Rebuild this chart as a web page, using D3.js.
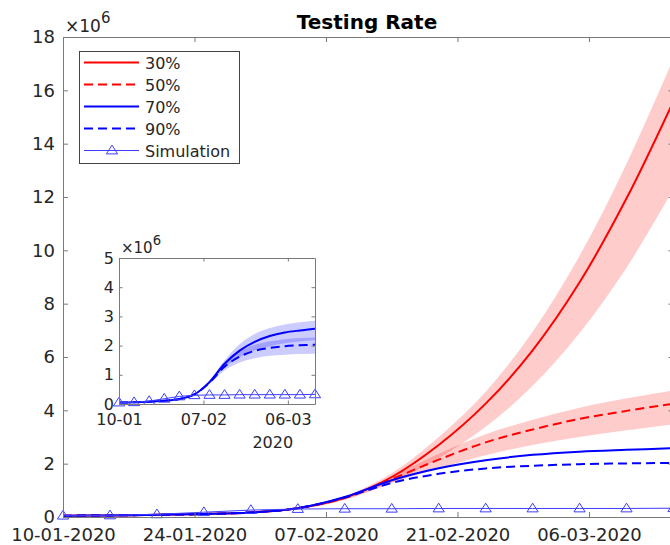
<!DOCTYPE html>
<html>
<head>
<meta charset="utf-8">
<script src="https://cdn.jsdelivr.net/npm/d3@7"></script>
<style>
body { margin: 0; background: #fff; }
text { font-family: "DejaVu Sans", sans-serif; fill: #262626; }
.axis path, .axis line { stroke: #7a7a7a; }
</style>
</head>
<body>
<div id="chart-area"></div>
<script>
/*
*    testing rate chart (values in millions)
*/
var dates = ["2020-01-10","2020-01-15","2020-01-20","2020-01-25","2020-01-30",
             "2020-02-04","2020-02-09","2020-02-14","2020-02-19","2020-02-24",
             "2020-02-29","2020-03-05","2020-03-10","2020-03-15"];

var rate30   = [0.05,0.06,0.08,0.11,0.17,0.33,0.72,1.50,2.70,4.25,6.25,8.80,11.95,15.60];
var rate30Hi = [0.05,0.06,0.08,0.11,0.18,0.35,0.78,1.64,3.00,4.70,6.95,9.80,13.25,17.20];
var rate30Lo = [0.05,0.06,0.08,0.11,0.16,0.30,0.65,1.28,2.20,3.38,4.92,6.90,9.35,12.30];

var rate50   = [0.05,0.06,0.08,0.11,0.17,0.33,0.72,1.42,2.15,2.80,3.28,3.68,3.98,4.25];
var rate50Hi = [0.05,0.06,0.08,0.11,0.18,0.35,0.78,1.52,2.37,3.10,3.65,4.10,4.45,4.75];
var rate50Lo = [0.05,0.06,0.08,0.11,0.16,0.30,0.65,1.28,1.82,2.32,2.70,3.00,3.25,3.48];

var rate70   = [0.05,0.06,0.08,0.11,0.17,0.33,0.75,1.38,1.83,2.13,2.33,2.45,2.52,2.58];
var rate70Hi = [0.05,0.06,0.08,0.11,0.18,0.35,0.80,1.50,2.05,2.40,2.60,2.72,2.80,2.85];
var rate70Lo = [0.05,0.06,0.08,0.11,0.16,0.30,0.70,1.25,1.60,1.83,1.98,2.08,2.14,2.18];

var rate90   = [0.05,0.06,0.08,0.11,0.17,0.33,0.73,1.28,1.62,1.82,1.92,1.98,2.01,2.03];
var rate90Hi = [0.05,0.06,0.08,0.11,0.18,0.35,0.77,1.38,1.80,2.03,2.15,2.22,2.26,2.28];
var rate90Lo = [0.05,0.06,0.08,0.11,0.16,0.30,0.68,1.15,1.42,1.57,1.65,1.69,1.71,1.72];

var simulation = [0.05,0.06,0.10,0.18,0.26,0.30,0.31,0.31,0.32,0.32,0.32,0.32,0.32,0.33];

var yTicksMain  = [0,2,4,6,8,10,12,14,16,18];
var yTicksInset = [0,1,2,3,4,5];
var xTicksMain  = ["2020-01-10","2020-01-24","2020-02-07","2020-02-21","2020-03-06"];
var xTicksInset = ["2020-01-10","2020-02-07","2020-03-06"];
var legendLabels = ["30%","50%","70%","90%","Simulation"];

var parse = d3.utcParse("%Y-%m-%d");

function rows(vals, lo, hi){
    return dates.map((d,i) => {
        return {date: parse(d), v: vals[i], lo: lo ? lo[i] : null, hi: hi ? hi[i] : null};
    });
}

var series = [
    {name: legendLabels[0], data: rows(rate30, rate30Lo, rate30Hi), color: "#ff0000", dash: null, band: "main"},
    {name: legendLabels[1], data: rows(rate50, rate50Lo, rate50Hi), color: "#ff0000", dash: "9,5", band: "main"},
    {name: legendLabels[2], data: rows(rate70, rate70Lo, rate70Hi), color: "#0000ff", dash: null, band: "inset"},
    {name: legendLabels[3], data: rows(rate90, rate90Lo, rate90Hi), color: "#0000ff", dash: "9,5", band: "inset"}
];
var simData = rows(simulation);

var svg = d3.select("#chart-area").append("svg")
    .attr("width", 670)
    .attr("height", 545);

var tri = "M0,-5.3L5.6,3.4L-5.6,3.4Z";
var smooth = d3.curveCatmullRom.alpha(0.5);
var simColor = "#3d3dff";

// draws one set of axes with the curves in it
function panel(opts){
    var g = svg.append("g");
    var x = d3.scaleUtc()
        .domain([parse(dates[0]), parse(dates[dates.length - 1])])
        .range([opts.left, opts.right]);
    var y = d3.scaleLinear()
        .domain([0, opts.ymax])
        .range([opts.bottom, opts.top]);

    g.append("rect")
        .attr("x", opts.left).attr("y", opts.top)
        .attr("width", opts.right - opts.left).attr("height", opts.bottom - opts.top)
        .attr("fill", "#fff");

    var clipId = "clip-" + opts.id;
    g.append("clipPath").attr("id", clipId).append("rect")
        .attr("x", opts.left).attr("y", opts.top)
        .attr("width", opts.right - opts.left).attr("height", opts.bottom - opts.top);

    var plot = g.append("g").attr("clip-path", "url(#" + clipId + ")");

    var area = d3.area()
        .x((d) => x(d.date))
        .y0((d) => y(d.lo))
        .y1((d) => y(d.hi))
        .curve(smooth);
    var line = d3.line()
        .x((d) => x(d.date))
        .y((d) => y(d.v))
        .curve(smooth);

    var shown = series.filter((s) => opts.only.indexOf(s.name) >= 0);

    shown.forEach((s) => {
        if (s.band === opts.id){
            plot.append("path")
                .attr("d", area(s.data))
                .attr("fill", s.color)
                .attr("fill-opacity", 0.2);
        }
    });
    shown.forEach((s) => {
        plot.append("path")
            .attr("d", line(s.data))
            .attr("fill", "none")
            .attr("stroke", s.color)
            .attr("stroke-width", 2)
            .attr("stroke-dasharray", s.dash);
    });

    plot.append("path")
        .attr("d", line.curve(d3.curveLinear)(simData))
        .attr("fill", "none")
        .attr("stroke", simColor)
        .attr("stroke-width", 1);

    // markers are not clipped
    g.selectAll(".sim").data(simData).enter().append("path")
        .attr("class", "sim")
        .attr("d", tri)
        .attr("transform", (d) => "translate(" + x(d.date) + "," + y(d.v) + ")")
        .attr("fill", "none")
        .attr("stroke", simColor)
        .attr("stroke-width", 1);

    var fmt = d3.utcFormat(opts.xfmt);
    var t = opts.tick;

    g.append("g").attr("class", "axis")
        .attr("transform", "translate(0," + opts.bottom + ")")
        .call(d3.axisBottom(x).tickValues(opts.xticks.map(parse)).tickFormat(fmt)
            .tickSizeInner(-t).tickSizeOuter(0).tickPadding(opts.xpad))
        .attr("font-size", opts.font).attr("font-family", null);
    g.append("g").attr("class", "axis")
        .attr("transform", "translate(0," + opts.top + ")")
        .call(d3.axisTop(x).tickValues(opts.xticks.map(parse)).tickFormat("")
            .tickSizeInner(-t).tickSizeOuter(0));
    g.append("g").attr("class", "axis")
        .attr("transform", "translate(" + opts.left + ",0)")
        .call(d3.axisLeft(y).tickValues(opts.yticks).tickFormat(d3.format("d"))
            .tickSizeInner(-t).tickSizeOuter(0).tickPadding(opts.ypad))
        .attr("font-size", opts.font).attr("font-family", null);
    g.append("g").attr("class", "axis")
        .attr("transform", "translate(" + opts.right + ",0)")
        .call(d3.axisRight(y).tickValues(opts.yticks).tickFormat("")
            .tickSizeInner(-t).tickSizeOuter(0));

    var ex = g.append("text")
        .attr("x", opts.left + 2)
        .attr("y", opts.top - opts.expOff)
        .attr("font-size", opts.expFont);
    ex.append("tspan").text("\u00d7" + "10");
    ex.append("tspan").attr("dy", -opts.expFont * 0.55)
        .attr("font-size", opts.expFont * 0.88).text("6");

    return {g: g, x: x, y: y};
}

var main = panel({
    id: "main", left: 63, right: 673.5, top: 37, bottom: 517, ymax: 18,
    xticks: xTicksMain, yticks: yTicksMain, xfmt: "%d-%m-%Y",
    font: 18, xpad: 11, ypad: 8, tick: 5, expFont: 17, expOff: 5,
    only: ["30%","50%","70%","90%"]
});

svg.append("text")
    .attr("x", (63 + 671) / 2)
    .attr("y", 29)
    .attr("text-anchor", "middle")
    .attr("font-size", 20)
    .attr("font-weight", "bold")
    .style("fill", "#000")
    .text("Testing Rate");

// legend
var leg = svg.append("g");
leg.append("rect")
    .attr("x", 79.5).attr("y", 51.5)
    .attr("width", 160).attr("height", 112)
    .attr("fill", "#fff")
    .attr("stroke", "#444")
    .attr("stroke-width", 1);

var legendRows = series.map((s) => s).concat([{name: legendLabels[4], color: simColor, dash: null, sim: true}]);
legendRows.forEach((s, i) => {
    var ly = 62.5 + i * 22;
    leg.append("line")
        .attr("x1", 84).attr("x2", 139)
        .attr("y1", ly).attr("y2", ly)
        .attr("stroke", s.color)
        .attr("stroke-width", s.sim ? 1 : 2)
        .attr("stroke-dasharray", s.dash);
    if (s.sim){
        leg.append("path")
            .attr("d", tri)
            .attr("transform", "translate(112," + ly + ")")
            .attr("fill", "none")
            .attr("stroke", simColor);
    }
    leg.append("text")
        .attr("x", 145)
        .attr("y", ly + 6.5)
        .attr("font-size", 16)
        .text(s.name);
});

// inset
var inset = panel({
    id: "inset", left: 119, right: 315, top: 258, bottom: 404, ymax: 5,
    xticks: xTicksInset, yticks: yTicksInset, xfmt: "%d-%m",
    font: 16, xpad: 10, ypad: 5, tick: 3.5, expFont: 15, expOff: 5,
    only: ["70%","90%"]
});

inset.g.append("text")
    .attr("x", inset.x(parse("2020-03-01")))
    .attr("y", 448)
    .attr("text-anchor", "middle")
    .attr("font-size", 16)
    .text("2020");
</script>
</body>
</html>
